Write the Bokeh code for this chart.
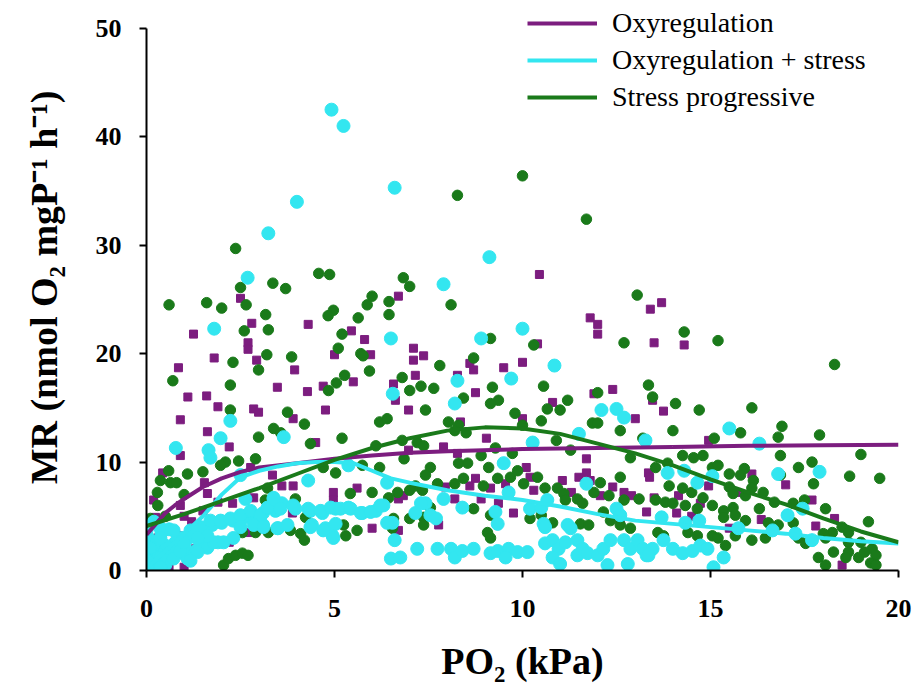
from bokeh.plotting import figure
from bokeh.models import Range1d, Legend, LegendItem, FixedTicker
from bokeh.embed import file_html
from bokeh.resources import INLINE

# ---------------- data ----------------
series_names = ["Oxyregulation", "Oxyregulation + stress", "Stress progressive"]
x_ticks = [0, 5, 10, 15, 20]
y_ticks = [0, 10, 20, 30, 40, 50]

oxy_points = [
    (10.45,27.3),(13.4,24.1),(13.7,24.7),(11.8,23.3),(12.0,22.7),(12.0,21.8),(13.5,21.0),(10.4,20.9),(14.3,20.8),
    (6.7,25.3),(2.5,25.1),(2.8,22.8),(4.3,22.7),(1.25,21.8),(5.45,22.1),(5.8,21.3),(2.7,21.0),(7.1,20.5),
    (2.7,20.4),(1.8,19.6),(2.93,19.4),(0.85,18.7),(3.94,18.5),(3.48,16.9),(5.0,19.9),(5.96,19.9),(5.5,17.4),(4.7,17.0),(4.28,16.5),
    (1.1,16.0),(1.6,16.1),(1.9,15.1),(0.9,13.9),(1.62,12.8),(2.2,11.4),(2.85,14.9),(2.98,14.6),(4.76,14.8),(3.9,14.0),(4.5,11.8),
    (0.9,10.6),(0.43,9.0),(0.19,6.5),(1.54,8.1),(1.62,7.1),(2.77,9.5),(2.29,6.2),(3.6,7.8),(3.9,7.8),(4.97,7.2),(4.97,6.5),(5.6,7.6),
    (6.0,3.9),(3.88,5.3),(2.2,2.6),(2.7,3.5),(1.3,2.0),(1.0,0.3),(0.1,2.8),(0.4,1.1),(3.35,8.8),(2.85,6.7),(3.35,5.8),(1.9,6.3),(0.85,3.2),(0.24,4.9),
    (7.1,19.4),(7.37,19.8),(6.57,17.2),(6.62,15.7),(6.97,14.8),(7.15,18.0),(8.27,18.0),
    (8.6,19.1),(8.7,18.5),(9.5,18.7),(10.0,19.2),(8.75,16.4),(11.9,16.3),(12.4,16.7),(13.46,15.7),(13.75,14.7),
    (8.35,13.7),(10.0,14.0),(10.8,15.5),(13.0,14.0),(9.04,12.2),(7.9,11.4),(8.27,10.8),(6.97,11.1),(10.1,9.5),(10.2,8.6),
    (8.75,8.5),(8.6,7.8),(9.15,7.6),(9.55,8.0),(10.3,7.4),(11.06,8.3),(11.7,10.3),(11.7,9.0),(11.5,8.6),(11.8,8.3),
    (12.4,7.7),(12.7,7.2),(12.9,6.9),(11.3,7.2),(12.07,6.9),(7.95,7.7),(8.2,6.6),(8.9,6.6),(9.36,6.2),(9.76,5.3),
    (6.7,6.6),(6.83,6.9),(6.7,3.7),(7.77,4.2),(13.3,5.4),(12.6,4.5),
    (14.95,12.0),(13.35,9.0),(13.38,8.6),(16.1,8.9),(17.0,7.9),(14.15,6.9),(14.73,6.2),(13.5,6.7),(14.1,5.3),(14.5,5.0),
    (14.95,7.8),(17.7,6.5),(16.35,4.7),(17.8,4.1),(18.3,4.8),(18.5,0.5),(15.5,3.9),(15.7,7.2),
    (0.3,3.0),(0.5,2.0),(0.7,1.5),(0.2,0.5),(0.6,0.2),(1.2,4.5),(1.5,5.5),(0.9,6.0),(1.0,5.0),
]

stress_points = [
    (4.92,42.5),(5.24,41.0),(6.6,35.3),(4.0,34.0),(3.24,31.1),(2.69,27.0),(7.9,26.4),(1.8,22.3),(6.5,21.4),(9.12,28.9),
    (10.0,22.3),(8.9,21.4),(10.85,18.9),(9.7,17.7),
    (6.55,16.3),(8.2,15.4),(8.27,17.5),(12.1,14.8),(12.5,14.9),(12.7,14.1),
    (2.23,13.8),(1.97,12.2),(0.78,11.3),(1.65,11.1),(1.7,10.4),(3.65,12.3),(2.5,8.8),(4.3,8.3),(2.63,6.6),(3.38,6.7),
    (3.6,6.2),(3.43,5.5),(3.1,5.3),(2.8,4.9),(2.55,4.8),(2.3,4.6),(2.0,4.4),(1.75,4.2),(1.5,3.9),(1.22,3.5),(0.96,3.0),
    (3.96,5.7),(4.3,5.7),(4.68,5.3),(5.03,5.7),(5.37,5.8),(5.74,5.3),(6.1,5.5),(6.3,6.0),(4.4,4.2),(4.76,3.9),(5.03,4.3),
    (3.5,3.9),(3.1,4.2),(1.9,2.6),(1.62,2.3),(1.3,1.8),(0.96,1.6),(0.59,1.1),(0.32,0.6),(0.16,2.0),(0.05,3.0),(0.24,2.6),
    (0.0,0.0),(0.77,2.6),(1.12,3.0),(0.5,2.3),(4.95,3.2),(6.5,1.1),(6.54,4.4),(6.4,8.1),(5.37,9.7),
    (0.1,1.0),(0.3,1.5),(0.5,0.5),(0.2,4.5),(0.4,3.5),(0.7,1.8),(1.0,2.2),(1.4,2.8),(0.15,0.2),(0.6,3.8),(0.35,4.0),
    (0.0,3.7),(0.19,2.3),(0.03,0.9),(0.37,1.2),(0.72,1.1),(1.09,1.1),(0.9,1.8),(1.17,3.7),(1.44,4.0),(1.7,4.6),
    (1.97,4.6),(2.23,4.8),(2.5,5.1),(2.77,5.5),(3.03,5.1),(3.22,5.8),(3.38,6.6),(3.56,5.7),(3.9,6.0),(4.36,5.5),
    (4.63,5.5),(4.9,5.8),(5.16,5.7),(5.43,5.7),(5.7,5.3),(5.96,5.4),(6.22,6.0),(6.4,4.4),
    (1.62,2.1),(1.78,2.6),(2.05,2.6),(2.31,3.0),(2.5,4.0),(2.85,4.2),(3.11,4.0),(3.48,3.9),(3.75,4.2),(4.36,4.0),
    (4.7,3.7),(4.97,3.0),(1.62,3.2),(1.36,3.0),(0.98,2.6),(0.72,3.7),(0.37,3.0),(0.1,2.1),(1.36,1.7),(1.17,0.9),(0.37,0.3),
    (10.27,11.8),(11.5,12.6),(13.27,12.0),(9.5,9.9),(11.7,8.0),(9.63,7.2),(7.9,6.6),(8.4,5.8),(7.42,6.2),(7.3,6.2),
    (7.15,5.3),(7.55,5.1),(7.7,4.8),(9.28,5.4),(9.34,4.3),(10.2,5.7),(10.5,5.8),(10.66,6.5),(10.56,4.3),(10.6,4.0),
    (11.2,4.2),(11.28,3.9),(12.5,5.7),(12.6,5.1),
    (6.6,2.8),(6.75,1.2),(7.2,2.0),(7.74,2.0),(8.1,2.0),(8.2,1.2),(8.4,1.8),(8.7,2.0),(9.15,1.6),(9.34,1.8),(9.63,2.0),
    (9.55,1.2),(9.87,1.7),(10.13,1.7),(10.6,2.5),(10.8,2.8),(10.96,2.0),(10.8,1.2),(11.14,2.6),(11.46,2.8),(11.6,2.0),
    (11.46,1.4),(11.73,1.6),(12.0,1.4),(12.15,2.0),(12.34,2.8),(12.7,2.8),(12.87,2.0),(13.06,2.8),(13.2,2.0),(13.3,1.4),
    (11.0,0.6),(12.26,0.5),(12.8,0.6),
    (15.5,13.1),(16.3,11.7),(13.86,9.0),(14.3,9.2),(15.05,8.7),(14.65,8.1),(16.8,8.9),(17.9,9.1),(17.45,5.7),(17.05,5.1),
    (13.7,4.9),(14.33,4.4),(14.7,4.6),(15.74,3.9),(16.65,3.7),(17.26,3.4),(17.7,2.8),(13.46,2.0),(13.75,2.8),(14.0,2.0),
    (14.26,1.6),(14.52,1.8),(14.73,2.3),(14.92,2.0),(15.35,1.2),(15.08,0.3),(13.35,1.4),
]

prog_points = [
    (8.27,34.6),(10.0,36.4),(11.7,32.4),(2.37,29.7),(4.58,27.4),(4.87,27.3),(6.83,27.0),(7.0,26.2),(3.36,26.5),(3.7,26.0),
    (2.5,26.1),(0.6,24.5),(1.6,24.7),(2.0,24.2),(2.65,24.5),(8.1,24.5),(3.17,23.6),(6.0,25.3),(5.87,24.5),(6.45,24.8),
    (6.45,23.6),(4.97,24.0),(4.83,23.5),(5.63,23.3),(2.6,22.1),(3.24,22.2),(5.2,21.8),(13.05,25.4),(14.3,22.0),(15.2,21.2),
    (12.7,21.0),(9.15,21.4),(10.3,20.8),(18.3,19.0),
    (3.2,19.9),(3.86,19.7),(2.3,19.2),(2.98,18.5),(0.7,17.5),(2.23,17.1),(5.1,20.5),(5.27,18.0),(5.05,17.3),(5.7,20.0),
    (5.76,19.8),(5.93,18.4),
    (7.8,18.9),(6.8,17.8),(7.0,16.6),(7.3,17.0),(7.64,16.8),(7.42,14.8),(8.03,13.7),(8.3,13.4),(6.2,13.7),(6.4,14.0),
    (6.85,10.3),(6.1,11.5),
    (8.7,19.6),(9.2,16.9),(9.36,15.7),(9.15,15.4),(10.56,17.0),(10.66,14.9),(11.0,14.8),(11.2,15.7),(10.5,13.8),(12.0,16.4),
    (13.35,17.1),(13.46,16.0),(14.07,15.4),(14.7,14.8),(16.1,15.0),
    (2.23,14.8),(3.75,14.6),(4.2,13.5),(3.38,13.1),(3.57,12.7),(2.98,12.3),(4.36,11.7),(5.2,12.2),(4.84,16.6),
    (2.9,10.3),(2.1,10.0),(1.97,9.7),(2.45,10.1),(1.09,8.9),(0.59,9.2),(0.37,8.3),(0.64,8.1),(0.29,7.2),(1.5,9.1),
    (3.16,6.5),(3.22,7.6),(3.96,6.6),(2.55,3.5),(2.9,3.5),(3.24,3.5),(3.83,3.7),(4.1,3.4),(4.2,2.8),(4.23,4.9),
    (5.24,4.2),(5.3,3.2),(5.6,3.7),(6.2,9.5),(5.74,9.7),(5.03,9.0),(4.7,9.5),(5.42,7.1),(6.0,7.2),(6.44,6.7),
    (2.05,0.5),(2.18,1.1),(2.37,1.4),(2.55,1.6),(2.7,1.4),(0.1,4.8),
    (8.43,15.9),(9.8,14.5),(10.0,13.4),(11.86,13.6),(12.0,13.6),(12.6,12.9),(6.8,12.0),(7.2,11.8),(7.37,11.5),(8.2,12.9),
    (8.5,12.7),(10.9,12.0),(11.28,11.1),(13.2,12.2),(12.87,10.4),(8.9,10.6),(9.28,11.3),(9.73,10.8),(8.54,9.9),(8.3,9.9),
    (9.1,9.5),(7.55,9.5),(7.42,8.8),(8.43,8.5),(8.2,8.0),(7.74,8.0),(7.15,7.8),(7.34,7.4),(7.0,7.4),(6.68,7.2),
    (8.96,7.8),(9.34,8.5),(9.68,8.6),(9.87,9.2),(10.03,8.0),(10.4,8.6),(10.6,7.6),(10.93,7.6),(11.1,7.1),(11.14,6.5),
    (11.46,6.6),(11.6,6.2),(11.9,7.2),(12.07,8.1),(12.3,6.9),(12.6,8.6),(12.7,6.5),(13.1,6.6),(7.37,4.9),(7.0,4.8),
    (7.55,5.8),(8.7,5.7),(9.15,5.1),(10.2,4.8),(10.5,5.1),(10.8,4.4),(11.54,4.3),(11.76,4.2),(12.34,4.6),(12.15,5.4),
    (12.6,4.2),(12.87,3.9),(9.07,3.5),(9.15,3.0),(7.37,4.2),(6.57,4.8),(6.54,3.9),
    (14.0,12.9),(15.1,12.2),(15.8,12.7),(16.9,13.3),(16.8,12.3),(17.9,12.5),(19.0,10.7),(14.26,10.6),(14.55,10.4),(14.8,10.6),
    (16.86,10.6),(17.7,10.0),(17.34,9.5),(18.7,8.7),(19.5,8.5),(13.54,9.5),(13.86,9.9),(15.05,9.5),(15.2,9.7),(15.9,9.4),
    (15.5,8.9),(15.8,8.8),(16.14,8.3),(17.74,8.0),(16.4,7.2),(16.86,8.8),(13.9,7.8),(14.26,7.6),(14.5,7.2),(14.8,6.7),
    (15.5,7.7),(15.6,7.1),(15.93,6.9),(16.1,7.6),(13.54,6.5),(13.8,6.3),(14.0,6.2),(14.33,6.0),(14.65,5.7),(15.05,6.0),
    (15.35,5.5),(15.6,5.8),(16.3,5.7),(16.7,6.3),(17.2,6.2),(17.5,6.5),(18.06,5.7),(15.35,4.9),(15.66,5.1),(15.93,4.6),
    (16.54,4.4),(16.8,4.2),(17.2,4.4),(19.2,4.5),(18.5,4.0),(18.67,3.5),(18.24,3.5),(18.0,3.4),(13.6,3.5),(13.75,3.2),
    (14.4,3.5),(14.65,3.2),(15.05,3.2),(15.2,3.0),(15.4,2.3),(15.66,3.2),(16.1,2.8),(16.46,3.0),(17.34,3.0),(17.53,2.5),
    (18.06,3.0),(18.27,1.7),(18.67,2.6),(19.0,2.6),(19.3,2.0),(19.4,1.4),(19.26,0.7),(17.87,1.2),(18.06,0.5),(18.94,1.2),
    (18.67,1.7),(19.4,0.5),(18.6,1.2),(19.1,1.7),
    (0.3,6.0),(0.5,5.0),(1.0,7.0),(0.8,8.1),
]

# fitted curves (read at these PO2 values)
oxy_fit_x = [0, 0.25, 0.5, 0.75, 1, 1.5, 2, 2.5, 3, 4, 5, 6, 7, 8, 10, 12, 14, 16, 18, 20]
oxy_fit_y = [3.3, 4.3, 5.3, 6.0, 6.6, 7.7, 8.5, 9.1, 9.5, 9.9, 10.3, 10.6, 10.85, 11.0, 11.2, 11.3, 11.4, 11.5, 11.55, 11.6]

stress_fit_x = [0, 0.5, 1, 1.5, 2, 2.5, 3, 3.5, 4, 4.5, 5, 5.5, 6, 6.5, 7, 8, 9, 10, 11, 12, 13, 14, 15, 16, 17, 18, 19, 20]
stress_fit_y = [0.2, 1.8, 3.4, 5.0, 7.0, 8.6, 9.2, 9.6, 9.9, 10.0, 10.0, 9.9, 9.2, 8.5, 8.1, 7.4, 6.9, 6.5, 5.9, 5.2, 4.6, 4.3, 4.0, 3.7, 3.4, 3.0, 2.7, 2.5]

prog_fit_x = [0, 1, 2, 3, 4, 5, 6, 7, 8, 9, 10, 11, 12, 13, 14, 15, 16, 17, 18, 19, 20]
prog_fit_y = [4.1, 5.2, 6.4, 7.6, 8.9, 10.2, 11.3, 12.2, 12.9, 13.2, 13.1, 12.6, 11.7, 10.8, 9.7, 8.4, 7.2, 6.1, 4.8, 3.6, 2.6]

colors = ["#7C1D7F", "#33E6F0", "#1A7A1A"]

# ---------------- figure ----------------
# y range runs a little past 50 so the legend (which sits above the 50 tick) stays inside the frame;
# the axis line itself is bounded to 0..50 like the reference.
p = figure(width=919, height=694, x_range=Range1d(0, 20), y_range=Range1d(0, 52.2),
           output_backend="svg", toolbar_location=None,
           min_border_left=146, min_border_right=21, min_border_top=4, min_border_bottom=124)
p.outline_line_color = None
p.grid.visible = False
p.background_fill_color = "white"
p.border_fill_color = "white"

p.scatter([a for a, b in oxy_points], [b for a, b in oxy_points], marker="square",
          size=8, color=colors[0])
p.scatter([a for a, b in prog_points], [b for a, b in prog_points], marker="circle",
          size=10.5, color=colors[2])
p.scatter([a for a, b in stress_points], [b for a, b in stress_points], marker="circle",
          size=13, color=colors[1])

r1 = p.line(oxy_fit_x, oxy_fit_y, line_color=colors[0], line_width=4)
r2 = p.line(stress_fit_x, stress_fit_y, line_color=colors[1], line_width=4)
r3 = p.line(prog_fit_x, prog_fit_y, line_color=colors[2], line_width=4)

for ax in (p.xaxis[0], p.yaxis[0]):
    ax.axis_line_width = 2
    ax.axis_line_color = "black"
    ax.major_tick_line_width = 2
    ax.major_tick_line_color = "black"
    ax.major_tick_out = 7
    ax.major_tick_in = 0
    ax.minor_tick_line_color = None
    ax.major_label_text_font = "Liberation Serif"
    ax.major_label_text_font_style = "bold"
    ax.major_label_text_font_size = "26px"
    ax.major_label_text_color = "black"
    ax.axis_label_text_font = "Liberation Serif"
    ax.axis_label_text_font_style = "bold"
    ax.axis_label_text_font_size = "38px"
    ax.axis_label_text_color = "black"

p.yaxis.bounds = (0, 50)
p.xaxis.ticker = FixedTicker(ticks=x_ticks)
p.yaxis.ticker = FixedTicker(ticks=y_ticks)
p.xaxis.major_label_standoff = 22
p.yaxis.major_label_standoff = 18
p.xaxis.axis_label = "PO\u2082 (kPa)"
p.yaxis.axis_label = "MR (nmol O\u2082 mgP\u207b\u00b9 h\u207b\u00b9)"
p.xaxis.axis_label_standoff = 20
p.yaxis.axis_label_standoff = 28

legend = Legend(items=[LegendItem(label=series_names[0], renderers=[r1]),
                       LegendItem(label=series_names[1], renderers=[r2]),
                       LegendItem(label=series_names[2], renderers=[r3])],
                location=(381, 456))
legend.label_text_font = "Liberation Serif"
legend.label_text_font_size = "28px"
legend.label_text_color = "black"
legend.glyph_width = 70
legend.glyph_height = 34
legend.label_height = 34
legend.label_standoff = 15
legend.spacing = 3
legend.padding = 0
legend.margin = 0
legend.border_line_color = None
legend.background_fill_alpha = 0
p.add_layout(legend, "center")

open("out.html", "w").write(file_html(p, INLINE))
